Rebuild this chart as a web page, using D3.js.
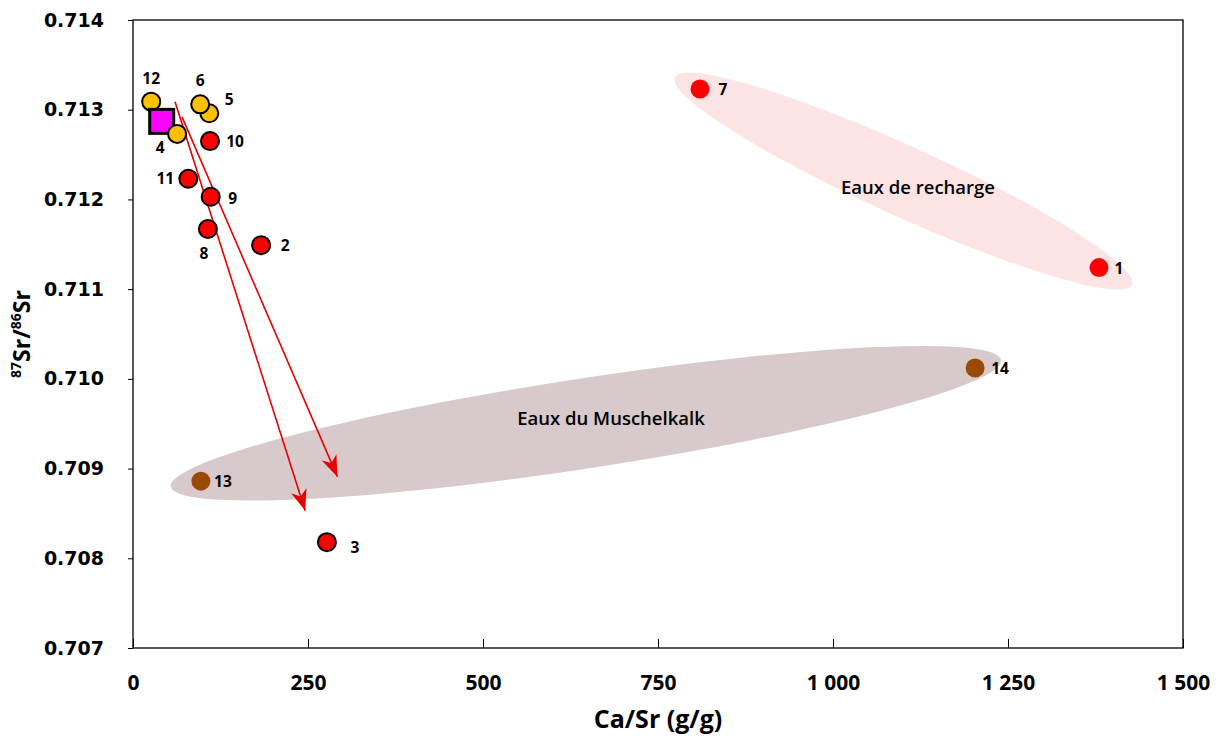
<!DOCTYPE html>
<html>
<head>
<meta charset="utf-8">
<script src="https://cdn.jsdelivr.net/npm/d3@7"></script>
<style>
	body { margin: 0; background: #fff; }
	svg { display: block; }
</style>
</head>
<body>
<div id="chart"></div>
<script>
// Samples, in drawing order (later ones sit on top)
var sampleIds   = ['2', '3', '8', '9', '10', '11', '5', '6', '12', 'moy', '4', '7', '1', '13', '14'];
var sampleCaSr  = [183, 277, 107, 111, 110, 79, 109, 96, 26, 41, 63, 810, 1380, 97, 1203];
var sampleSr    = [0.71149, 0.70818, 0.71167, 0.71203, 0.71265, 0.71223, 0.71296, 0.71306, 0.71309, 0.71287, 0.71273, 0.71323, 0.71124, 0.70886, 0.71012];
var sampleGroup = ['red', 'red', 'red', 'red', 'red', 'red', 'orange', 'orange', 'orange', 'square', 'orange', 'redPlain', 'redPlain', 'brown', 'brown'];

// Groundwater families: ends of the long axis of each ellipse
var zoneNames = ['Eaux de recharge', 'Eaux du Muschelkalk'];
var zoneX1 = [774, 54];
var zoneY1 = [0.71336, 0.70880];
var zoneX2 = [1427, 1240];
var zoneY2 = [0.71105, 0.71021];

// Evolution arrows
var arrowX1 = [60, 70];
var arrowY1 = [0.71309, 0.71292];
var arrowX2 = [246, 292];
var arrowY2 = [0.70853, 0.70891];

var xTicks = [0, 250, 500, 750, 1000, 1250, 1500];
var yTicks = [0.707, 0.708, 0.709, 0.710, 0.711, 0.712, 0.713, 0.714];

// Layout only
var labelOffset = {
	'2': [24, 0], '3': [28, 5], '8': [-4, 24], '9': [22, 1], '10': [25, 0], '11': [-23, -1],
	'5': [20, -14], '6': [0, -24], '12': [0, -24], '4': [-17, 13], '7': [23, 0], '1': [20, 0],
	'13': [22, 0], '14': [25, 0]
};
var zoneHalfWidth = [35, 45];
var zoneFill = ['#fde4e4', '#d8caca'];
var zoneText = [[918, 186], [611, 417]];
var groupStyle = {
	red:      { fill: '#ff0000', stroke: '#000', r: 9 },
	orange:   { fill: '#ffc000', stroke: '#000', r: 9 },
	redPlain: { fill: '#ff0000', stroke: 'none', r: 9.5 },
	brown:    { fill: '#9a4a06', stroke: 'none', r: 9.5 }
};

var width = 1223,
	height = 738,
	margin = { top: 20, right: 40, bottom: 90, left: 133 };

var svg = d3.select('#chart')
	.append('svg')
	.attr('width', width)
	.attr('height', height);

var x = d3.scaleLinear()
	.domain([0, 1500])
	.range([margin.left, width - margin.right]);

var y = d3.scaleLinear()
	.domain([0.707, 0.714])
	.range([height - margin.bottom, margin.top]);

var fr = d3.formatLocale({ decimal: ',', thousands: ' ', grouping: [3], currency: ['', ''] });

// Arrow head
svg.append('defs')
	.append('marker')
	.attr('id', 'head')
	.attr('markerUnits', 'userSpaceOnUse')
	.attr('viewBox', '-22 -10 24 20')
	.attr('refX', 0)
	.attr('refY', 0)
	.attr('markerWidth', 24)
	.attr('markerHeight', 20)
	.attr('orient', 'auto')
	.append('path')
	.attr('d', 'M0,0 L-21,-8 L-15,0 L-21,8 Z')
	.attr('fill', '#e60000');

// Ellipses
zoneNames.forEach(function(name, i) {
	var p1 = [x(zoneX1[i]), y(zoneY1[i])],
		p2 = [x(zoneX2[i]), y(zoneY2[i])],
		cx = (p1[0] + p2[0]) / 2,
		cy = (p1[1] + p2[1]) / 2,
		a = Math.hypot(p2[0] - p1[0], p2[1] - p1[1]) / 2,
		angle = Math.atan2(p2[1] - p1[1], p2[0] - p1[0]) * 180 / Math.PI;

	svg.append('ellipse')
		.attr('cx', cx)
		.attr('cy', cy)
		.attr('rx', a)
		.attr('ry', zoneHalfWidth[i])
		.attr('transform', 'rotate(' + angle + ',' + cx + ',' + cy + ')')
		.attr('fill', zoneFill[i]);

	svg.append('text')
		.attr('x', zoneText[i][0])
		.attr('y', zoneText[i][1])
		.attr('text-anchor', 'middle')
		.attr('dominant-baseline', 'central')
		.attr('font-family', 'Open Sans, sans-serif')
		.attr('font-weight', 600)
		.attr('font-size', 18.5)
		.text(name);
});

// Frame and axes
svg.append('rect')
	.attr('x', x(0))
	.attr('y', y(0.714))
	.attr('width', x(1500) - x(0))
	.attr('height', y(0.707) - y(0.714))
	.attr('fill', 'none')
	.attr('stroke', '#000')
	.attr('stroke-width', 1.3);

var xAxis = svg.append('g')
	.attr('transform', 'translate(0,' + y(0.707) + ')')
	.call(d3.axisBottom(x).tickValues(xTicks).tickSizeInner(-9).tickSizeOuter(0).tickPadding(27).tickFormat(fr.format(',')));

xAxis.select('.domain').remove();
xAxis.selectAll('.tick line').attr('stroke-width', 1);
xAxis.selectAll('text')
	.attr('font-family', 'Open Sans, sans-serif')
	.attr('font-weight', 700)
	.attr('font-size', 21)
	.attr('fill', '#000');

var yAxis = svg.append('g')
	.attr('transform', 'translate(' + x(0) + ',0)')
	.call(d3.axisLeft(y).tickValues(yTicks).tickSize(5).tickPadding(24).tickFormat(d3.format('.3f')));

yAxis.select('.domain').remove();
yAxis.selectAll('text')
	.attr('font-family', 'DejaVu Sans, sans-serif')
	.attr('font-weight', 700)
	.attr('font-size', 19)
	.attr('fill', '#000');

// Axis titles
svg.append('text')
	.attr('x', (x(0) + x(1500)) / 2)
	.attr('y', 728)
	.attr('text-anchor', 'middle')
	.attr('font-family', 'Open Sans, sans-serif')
	.attr('font-weight', 700)
	.attr('font-size', 25)
	.text('Ca/Sr (g/g)');

var yTitle = svg.append('text')
	.attr('transform', 'translate(30,' + ((y(0.707) + y(0.714)) / 2) + ') rotate(-90)')
	.attr('text-anchor', 'middle')
	.attr('font-family', 'Open Sans, sans-serif')
	.attr('font-weight', 700)
	.attr('font-size', 23);

yTitle.append('tspan').attr('font-size', 14).attr('dy', -9).text('87');
yTitle.append('tspan').attr('dy', 9).text('Sr/');
yTitle.append('tspan').attr('font-size', 14).attr('dy', -9).text('86');
yTitle.append('tspan').attr('dy', 9).text('Sr');

// Arrows
arrowX1.forEach(function(d, i) {
	svg.append('line')
		.attr('x1', x(arrowX1[i]))
		.attr('y1', y(arrowY1[i]))
		.attr('x2', x(arrowX2[i]))
		.attr('y2', y(arrowY2[i]))
		.attr('stroke', '#e60000')
		.attr('stroke-width', 1.6)
		.attr('marker-end', 'url(#head)');
});

// Samples
sampleIds.forEach(function(id, i) {
	var cx = x(sampleCaSr[i]),
		cy = y(sampleSr[i]),
		g = sampleGroup[i];

	if (g === 'square') {
		svg.append('rect')
			.attr('x', cx - 12)
			.attr('y', cy - 12)
			.attr('width', 24)
			.attr('height', 24)
			.attr('fill', '#ff00ff')
			.attr('stroke', '#000')
			.attr('stroke-width', 3);
		return;
	}

	var st = groupStyle[g];
	svg.append('circle')
		.attr('cx', cx)
		.attr('cy', cy)
		.attr('r', st.r)
		.attr('fill', st.fill)
		.attr('stroke', st.stroke)
		.attr('stroke-width', 2);

	var off = labelOffset[id];
	svg.append('text')
		.attr('x', cx + off[0])
		.attr('y', cy + off[1])
		.attr('text-anchor', 'middle')
		.attr('dominant-baseline', 'central')
		.attr('font-family', 'Open Sans, sans-serif')
		.attr('font-weight', 700)
		.attr('font-size', 15.5)
		.text(id);
});
</script>
</body>
</html>
